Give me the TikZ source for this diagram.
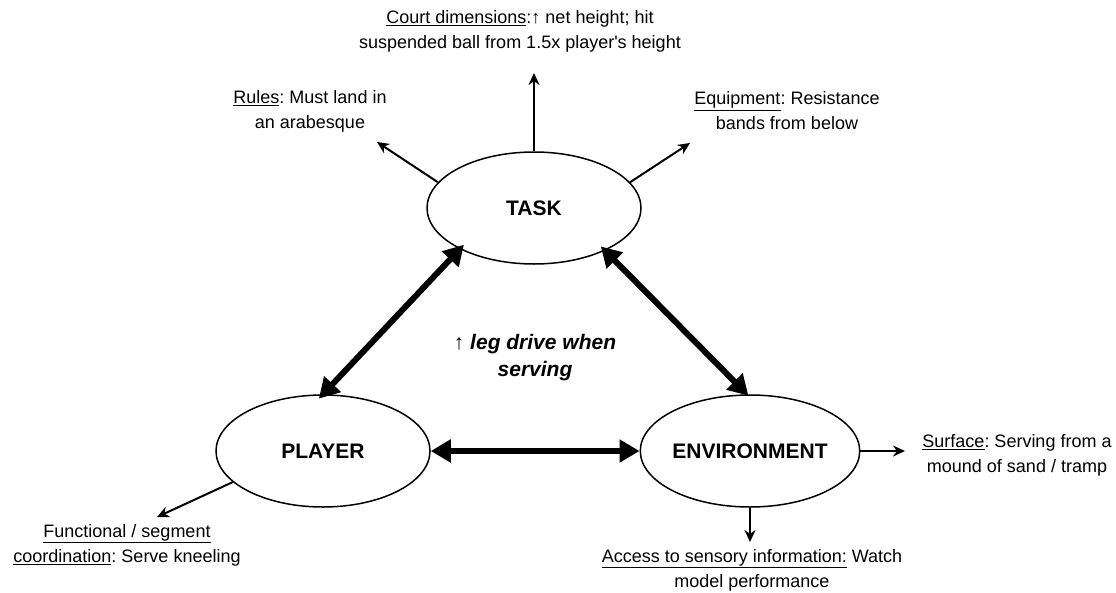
\documentclass[tikz,border=0pt]{standalone}
\usepackage{fontspec}
\setmainfont{Liberation Sans}
\usetikzlibrary{arrows.meta,shapes.geometric}
\frenchspacing
\begin{document}
\begin{tikzpicture}[x=1pt,y=-1pt,
  oval/.style={ellipse, draw, line width=1.5pt, minimum width=214pt, minimum height=112pt, inner sep=0pt, font=\fontsize{21}{25}\selectfont\bfseries},
  lbl/.style={font=\fontsize{18}{25}\selectfont\frenchspacing, align=center, inner sep=0pt},
  bigarrow/.style={line width=6pt, {Triangle[length=20pt,width=22pt]}-{Triangle[length=20pt,width=22pt]}},
  thinarrow/.style={line width=2pt, -{Stealth[length=12pt,width=11pt]}}
]
\useasboundingbox (0,0) rectangle (1116,592);
\fill[white] (0,0) rectangle (1116,592);

\node[oval] (task) at (534,208) {TASK};
\node[oval] (player) at (323,451) {PLAYER};
\node[oval] (env) at (750,451) {ENVIRONMENT};

\coordinate (tCourt) at (534,73);
\coordinate (tRules) at (377,142);
\coordinate (tEquip) at (690,143);
\coordinate (tSurf) at (905,451);
\coordinate (tAccess) at (750,542);
\coordinate (tFunc) at (157,517);

\draw[thinarrow] (task.north) -- (tCourt);
\draw[thinarrow] (task.165) -- (tRules);
\draw[thinarrow] (task.15) -- (tEquip);
\draw[thinarrow] (env.east) -- (tSurf);
\draw[thinarrow] (env.south) -- (tAccess);
\draw[thinarrow] (player.199) -- (tFunc);

\draw[bigarrow, shorten <=-6pt, shorten >=-6pt] (task.209) -- (player.north);
\draw[bigarrow, shorten <=-6pt, shorten >=-2pt] (task.329) -- (env.93);
\draw[bigarrow] (player.east) -- (env.west);

\node[lbl] (court) at (520,31) {\underline{Court dimensions}:↑ net height; hit\\suspended ball from 1.5x player\textquotesingle s height};
\node[lbl] (rules) at (310,111) {\underline{Rules}: Must land in\\an arabesque};
\node[lbl] (equip) at (787,111) {\underline{Equipment}: Resistance\\bands from below};
\node[lbl] (surf) at (1017,455) {\underline{Surface}: Serving from a\\mound of sand / tramp};
\node[lbl] (access) at (752,570) {\underline{Access to sensory information:} Watch\\model performance};
\node[lbl] (func) at (127,545) {\underline{Functional / segment}\\\underline{coordination}: Serve kneeling};
\node[lbl, font=\fontsize{21}{27}\selectfont] (center) at (535,358) {↑ \textbf{\textit{leg drive when}}\\\textbf{\textit{serving}}};
\end{tikzpicture}
\end{document}
